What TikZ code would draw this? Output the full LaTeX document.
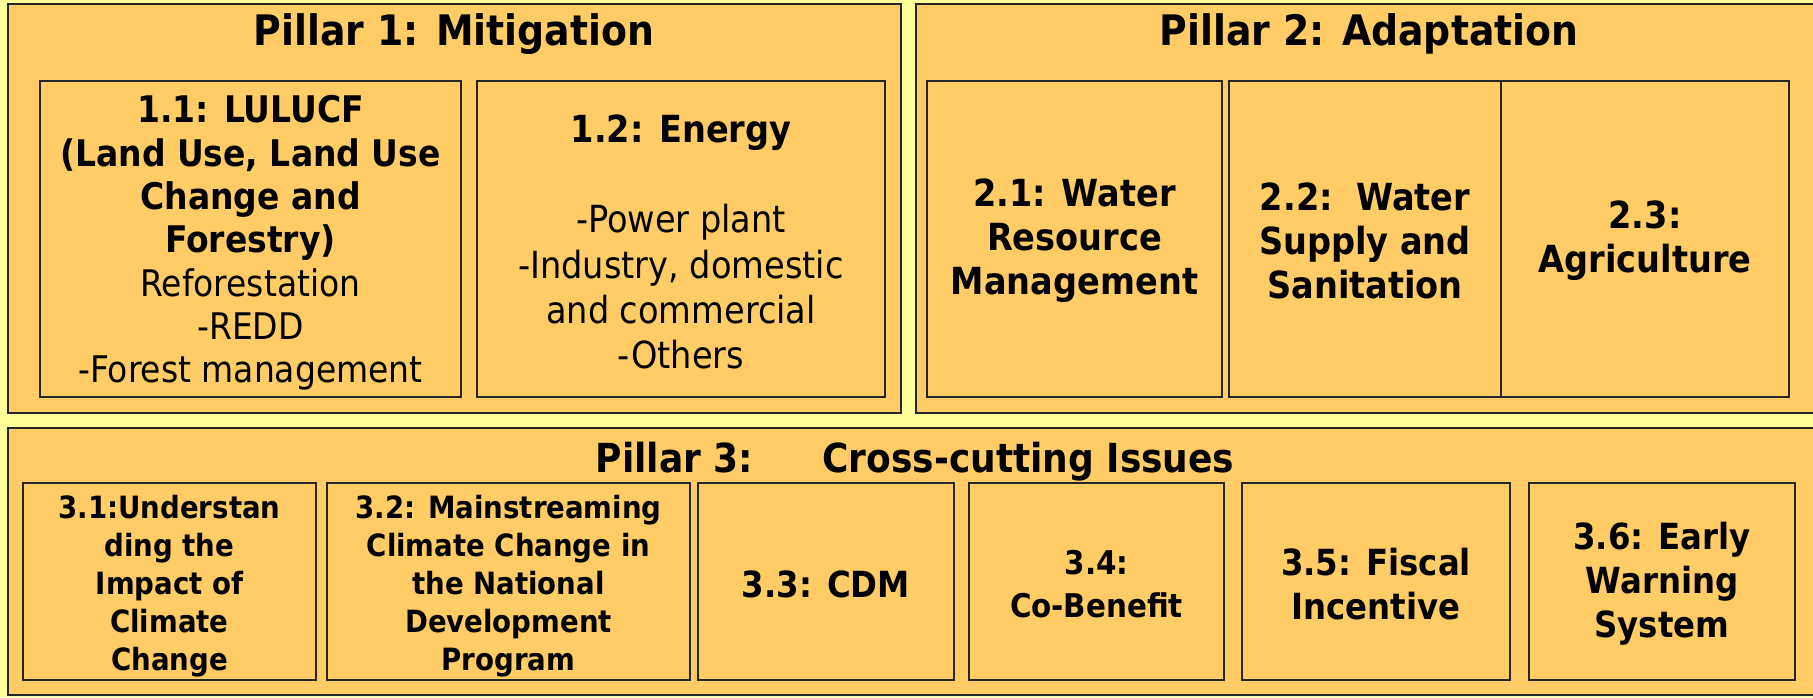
\documentclass[tikz,border=0pt]{standalone}
\usepackage{fontspec}
\setmainfont{DejaVu Sans Condensed}
\definecolor{paleyellow}{RGB}{255,255,153}
\definecolor{pillarfill}{RGB}{255,204,102}
\tikzset{
  pillarbox/.style={draw=black!85, line width=1.6pt, fill=pillarfill},
  itembox/.style={draw=black!85, line width=1.4pt, fill=pillarfill},
  pillartitle/.style={inner sep=0pt, font=\fontsize{31.5}{37}\selectfont\bfseries},
  itemtext/.style={inner sep=0pt, align=center, font=\fontsize{27.5}{32.5}\selectfont},
  itemhead/.style={itemtext, font=\fontsize{28}{33}\selectfont\bfseries},
  crosstext/.style={inner sep=0pt, align=center, font=\fontsize{23}{28.5}\selectfont\bfseries},
  bigcross/.style={crosstext, font=\fontsize{27}{33}\selectfont\bfseries},
}

\begin{document}
\begin{tikzpicture}[x=0.75pt,y=0.75pt,yscale=-1,xscale=1]
    \useasboundingbox (0,0) rectangle (1813,697);
    \fill[paleyellow] (0,0) rectangle (1813,697);
    % pillars
    \draw[pillarbox] (8,4) rectangle (901,413);
    \draw[pillarbox] (916,4) rectangle (1822,413);
    \draw[pillarbox] (8,428) rectangle (1822,695);
    % pillar 1 items
    \draw[itembox] (40,81) rectangle (461,397);
    \draw[itembox] (477,81) rectangle (885,397);
    % pillar 2 items
    \draw[itembox] (927,81) rectangle (1222,397);
    \draw[itembox] (1229,81) rectangle (1501,397);
    \draw[itembox] (1501,81) rectangle (1789,397);
    % pillar 3 items
    \draw[itembox] (23,483) rectangle (316,680);
    \draw[itembox] (327,483) rectangle (690,680);
    \draw[itembox] (698,483) rectangle (954,680);
    \draw[itembox] (969,483) rectangle (1224,680);
    \draw[itembox] (1242,483) rectangle (1510,680);
    \draw[itembox] (1529,483) rectangle (1795,680);
    % titles
    \draw (454,34) node [pillartitle] (mitigation) {Pillar 1: Mitigation};
    \draw (1369,34) node [pillartitle] (adaptation) {Pillar 2: Adaptation};
    \draw (915,462) node [pillartitle, font=\fontsize{30}{36}\selectfont\bfseries] (crosscut) {Pillar 3:\hspace{52pt}Cross-cutting Issues};
    % texts
    \draw (250.5,243) node [itemtext] (lulucf) {\textbf{1.1: LULUCF}\\\textbf{(Land Use, Land Use}\\\textbf{Change and}\\\textbf{Forestry)}\\Reforestation\\-REDD\\-Forest management};
    \draw (681,242) node [itemtext, font=\fontsize{28}{34}\selectfont] (energy) {\textbf{1.2: Energy}\\[34pt]-Power plant\\-Industry, domestic\\and commercial\\-Others};
    \draw (1074.5,241) node [itemhead] (waterres) {2.1: Water\\Resource\\Management};
    \draw (1365,241) node [itemhead] (watersup) {2.2:\ \ Water\\Supply and\\Sanitation};
    \draw (1645,241) node [itemhead] (agri) {2.3:\\Agriculture};
    \draw (169.5,586) node [crosstext] (impact) {3.1:Understan\\ding the\\Impact of\\Climate\\Change};
    \draw (508.5,586) node [crosstext] (mainstream) {3.2: Mainstreaming\\Climate Change in\\the National\\Development\\Program};
    \draw (826,584) node [bigcross] (cdm) {3.3: CDM};
    \draw (1096.5,584) node [crosstext, font=\fontsize{24.5}{32}\selectfont\bfseries] (cobenefit) {3.4:\\Co-Benefit};
    \draw (1376,584) node [bigcross] (fiscal) {3.5: Fiscal\\Incentive};
    \draw (1662,584) node [bigcross] (warning) {3.6: Early\\Warning\\System};
\end{tikzpicture}
\end{document}
